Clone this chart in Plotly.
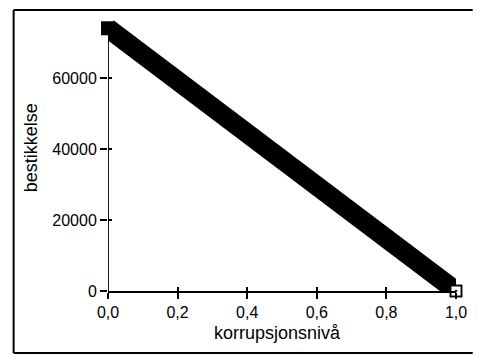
import plotly.graph_objects as go

# corruption level vs. bribe size
korrupsjonsniva = [0.0, 0.1, 0.2, 0.3, 0.4, 0.5, 0.6, 0.7, 0.8, 0.9, 1.0]
bestikkelse = [74000, 66600, 59200, 51800, 44400, 37000, 29600, 22200, 14800, 7400, 0]

x_ticks = [0.0, 0.2, 0.4, 0.6, 0.8, 1.0]
x_ticktext = ["0,0", "0,2", "0,4", "0,6", "0,8", "1,0"]
y_ticks = [0, 20000, 40000, 60000]
y_ticktext = ["0", "20000", "40000", "60000"]
y_axis_top = 71300

W, H = 479, 356
L, R, T, B = 108, 17, 12, 65
pw, ph = W - L - R, H - T - B

def px(x):
    return (x - L) / pw

def py(y):
    return (H - B - y) / ph

tick_font = dict(family="Liberation Sans, Arial, sans-serif", size=16, color="black")
title_font = dict(family="Liberation Sans, Arial, sans-serif", size=18, color="black")

fig = go.Figure()

# thick band traced by the square markers
fig.add_trace(go.Scatter(
    x=korrupsjonsniva,
    y=bestikkelse,
    mode="lines",
    line=dict(color="black", width=19.5),
    cliponaxis=False,
    showlegend=False,
))
fig.add_trace(go.Scatter(
    x=korrupsjonsniva[:1],
    y=bestikkelse[:1],
    mode="markers",
    marker=dict(symbol="square", size=14, color="black"),
    cliponaxis=False,
    showlegend=False,
))
# end point: open square with centre dot
fig.add_trace(go.Scatter(
    x=korrupsjonsniva[-1:],
    y=bestikkelse[-1:],
    mode="markers",
    marker=dict(symbol="square", size=11, color="white",
                line=dict(color="black", width=1.5)),
    cliponaxis=False,
    showlegend=False,
))
fig.add_trace(go.Scatter(
    x=korrupsjonsniva[-1:],
    y=bestikkelse[-1:],
    mode="markers",
    marker=dict(symbol="square-open-dot", size=11, color="black",
                line=dict(color="black", width=1.5)),
    cliponaxis=False,
    showlegend=False,
))

yr = [0, ph / 71 * 20000]

fig.update_layout(
    width=W, height=H,
    margin=dict(l=L, r=R, t=T, b=B),
    paper_bgcolor="white",
    plot_bgcolor="white",
    font=tick_font,
    xaxis=dict(
        range=[0, 1.0], showgrid=False, zeroline=False,
        showline=True, linecolor="black", linewidth=1.8,
        tickmode="array", tickvals=x_ticks, ticktext=x_ticktext,
        ticks="outside", ticklen=6, tickwidth=1.5, tickcolor="black",
        tickfont=tick_font,
    ),
    yaxis=dict(
        range=yr, showgrid=False, zeroline=False, showline=False,
        tickmode="array", tickvals=y_ticks, ticktext=y_ticktext,
        ticks="outside", ticklen=7, tickwidth=1.5, tickcolor="black",
        tickfont=tick_font, ticklabelstandoff=0,
    ),
    # inside halves of the crossing tick marks
    xaxis2=dict(
        overlaying="x", matches="x", range=[0, 1.0], showgrid=False,
        zeroline=False, showline=False, tickmode="array", tickvals=x_ticks,
        ticks="inside", ticklen=4, tickwidth=1.5, tickcolor="black",
        showticklabels=False, side="bottom",
    ),
    yaxis2=dict(
        overlaying="y", matches="y", range=yr, showgrid=False,
        zeroline=False, showline=False, tickmode="array", tickvals=y_ticks,
        ticks="inside", ticklen=4, tickwidth=1.5, tickcolor="black",
        showticklabels=False, side="left",
    ),
    annotations=[
        dict(text="korrupsjonsnivå", x=px(280), y=py(333), xref="paper",
             yref="paper", showarrow=False, font=title_font,
             xanchor="center", yanchor="middle"),
        dict(text="bestikkelse", x=px(30), y=py(148), xref="paper",
             yref="paper", showarrow=False, font=title_font, textangle=-90,
             xanchor="center", yanchor="middle"),
    ],
    shapes=[
        # y axis line, shorter than the plotting area
        dict(type="line", xref="x", yref="y", x0=0, x1=0,
             y0=0, y1=y_axis_top, layer="below",
             line=dict(color="black", width=1.8)),
        # frame around the figure
        dict(type="line", xref="paper", yref="paper", x0=px(12), x1=px(12),
             y0=py(10), y1=py(353), line=dict(color="black", width=2)),
        dict(type="line", xref="paper", yref="paper", x0=px(12), x1=px(479),
             y0=py(10), y1=py(10), line=dict(color="black", width=2)),
        dict(type="line", xref="paper", yref="paper", x0=px(12), x1=px(479),
             y0=py(353), y1=py(353), line=dict(color="black", width=2)),
    ],
)

# dummy trace so the overlay axes are drawn
fig.add_trace(go.Scatter(x=[None], y=[None], xaxis="x2", yaxis="y2",
                         showlegend=False, hoverinfo="skip"))

fig.write_html("out.html")
